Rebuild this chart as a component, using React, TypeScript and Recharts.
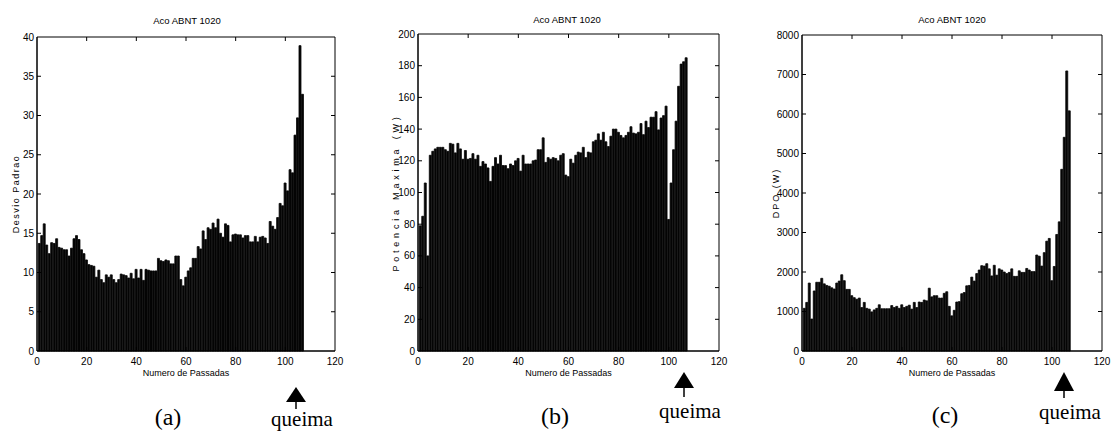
import React from 'react';
import { BarChart, Bar, XAxis, YAxis, ReferenceArea, ReferenceLine } from 'recharts';

// Numero de Passadas 1..107 (burn happens after the last pass)
const passes = Array.from({ length: 107 }, (_, i) => i + 1);

// (a) Desvio Padrao
const desvioPadrao = [
    13.7, 14.7, 16.2, 13.5, 12.4, 13.8, 13.7, 14.3, 13.2, 13.1,
    12.9, 12.9, 12.1, 13.1, 14.3, 14.7, 14.2, 12.9, 12.4, 11.6,
    11.0, 10.9, 10.8, 9.4, 10.3, 9.1, 8.7, 9.7, 9.4, 9.7,
    9.1, 8.7, 9.1, 9.8, 9.7, 9.6, 9.3, 9.9, 9.2, 10.4,
    9.3, 10.4, 9.0, 10.4, 10.3, 10.2, 10.2, 10.2, 11.8, 11.5,
    11.4, 11.6, 11.5, 11.1, 11.1, 12.1, 12.1, 9.1, 8.3, 9.4,
    10.2, 10.6, 11.8, 11.8, 13.3, 13.0, 15.3, 14.2, 15.7, 15.5,
    16.3, 15.7, 16.8, 15.0, 14.5, 16.2, 16.0, 13.9, 14.8, 14.9,
    14.8, 14.8, 14.4, 14.7, 14.7, 13.9, 13.9, 14.6, 13.9, 14.5,
    14.6, 14.4, 13.7, 16.5, 15.9, 15.5, 17.0, 18.8, 18.5, 21.4,
    20.4, 23.1, 22.7, 27.5, 29.7, 38.9, 32.7,
];

// (b) Potencia Maxima (W)
const potenciaMaxima = [
    79, 85, 106, 60, 123.5, 126, 127.5, 128.5, 128.5, 128.5,
    127, 126, 131, 130.5, 125, 131, 127.5, 121, 126.5, 121,
    121.5, 124.5, 121, 123.5, 116.5, 119.5, 118, 115.5, 107, 116.5,
    122, 118, 123.5, 117, 117, 115, 118, 117, 120, 121.5,
    113.5, 123.5, 118, 118, 118, 120, 120.5, 127, 127, 134.5,
    119, 122, 121, 122, 121.5, 120, 123.5, 124.5, 111, 110,
    121, 118.5, 123.5, 125.5, 125, 128.5, 122, 125.5, 125, 132,
    133, 137, 133, 138, 132, 129, 135.5, 140, 140, 138,
    136, 134.5, 136, 138, 141.5, 137.5, 137, 138, 143.5, 136.5,
    145, 141, 147.5, 147.5, 151, 139.5, 147, 148.5, 154.5, 83,
    106, 127, 145, 167, 181, 182.5, 185,
];

// (c) DPO (W)
const dpo = [
    1080, 1230, 1720, 810, 1520, 1740, 1740, 1840, 1700, 1660,
    1640, 1600, 1570, 1720, 1770, 1930, 1780, 1560, 1560, 1400,
    1350, 1310, 1340, 1100, 1230, 1080, 1060, 990, 1040, 1080,
    1170, 1070, 1070, 1070, 1070, 1150, 1100, 1130, 1080, 1170,
    1100, 1130, 1160, 1060, 1230, 1100, 1240, 1230, 1290, 1270,
    1590, 1370, 1400, 1400, 1340, 1340, 1460, 1500, 1130, 890,
    1030, 1240, 1250, 1450, 1480, 1650, 1660, 1870, 1770, 1960,
    2050, 2160, 2150, 2210, 2080, 1900, 2170, 1920, 2080, 2050,
    2000, 1960, 1990, 2080, 1890, 1890, 2030, 1990, 1990, 2090,
    2050, 2010, 2010, 2430, 2400, 2150, 2490, 2780, 2850, 1780,
    2140, 2950, 3270, 4600, 5410, 7090, 6080,
];

const xTicks = [0, 20, 40, 60, 80, 100, 120];
const yTicksA = [0, 5, 10, 15, 20, 25, 30, 35, 40];
const yTicksB = [0, 20, 40, 60, 80, 100, 120, 140, 160, 180, 200];
const yTicksC = [0, 1000, 2000, 3000, 4000, 5000, 6000, 7000, 8000];

const SANS = '"Liberation Sans", Arial, sans-serif';
const SERIF = '"Liberation Serif", "Times New Roman", serif';
const tickStyle = { fontSize: 10, fill: '#000', fontFamily: SANS };
const lineStyle = { stroke: '#000', strokeWidth: 1 };

interface PanelProps {
    values: number[];
    yTicks: number[];
    yLabel: string;
    yLabelSpacing: number;
    yLabelDx: number;
    left: number;
    width: number;
    yAxisWidth: number;
    top: number;
    right: number;
}

const Panel: React.FC<PanelProps> = ({
    values, yTicks, yLabel, yLabelSpacing, yLabelDx, left, width, yAxisWidth, top, right,
}) => {
    const data = passes.map((p, i) => ({ pass: p, value: values[i] }));
    const yMax = yTicks[yTicks.length - 1];
    // inward tick marks on all four sides, ~4px long
    const plotW = width - right - yAxisWidth;
    const plotH = 390 - 9 - 30 - top;
    const tx = (4 * 120) / plotW;
    const ty = (4 * yMax) / plotH;
    return (
        <div style={{ position: 'absolute', left, top: 0 }}>
            <BarChart
                width={width}
                height={390}
                data={data}
                margin={{ top, right, left: 0, bottom: 9 }}
                barCategoryGap={0}
            >
                <XAxis
                    dataKey="pass"
                    type="number"
                    domain={[0, 120]}
                    ticks={xTicks}
                    height={30}
                    tickSize={-4}
                    tickMargin={11}
                    tick={tickStyle}
                    axisLine={lineStyle}
                    tickLine={false}
                    label={{
                        value: 'Numero de Passadas',
                        position: 'center',
                        dy: 7,
                        style: { fontSize: 9, fill: '#000', fontFamily: SANS },
                    }}
                />
                <YAxis
                    type="number"
                    domain={[0, yMax]}
                    ticks={yTicks}
                    width={yAxisWidth}
                    tickSize={-4}
                    tickMargin={7}
                    tick={tickStyle}
                    axisLine={lineStyle}
                    tickLine={false}
                    label={{
                        value: yLabel,
                        angle: -90,
                        position: 'center',
                        dx: yLabelDx,
                        style: { fontSize: 9, fill: '#000', fontFamily: SANS, letterSpacing: yLabelSpacing },
                    }}
                />
                <Bar dataKey="value" fill="#050505" stroke="#050505" strokeWidth={0.8} barSize={2} isAnimationActive={false} />
                <ReferenceArea x1={0} x2={120} y1={0} y2={yMax} fill="none" stroke="#000" strokeWidth={1} ifOverflow="visible" />
                {xTicks.slice(1, -1).map((t) => (
                    <ReferenceLine key={`xb${t}`} segment={[{ x: t, y: 0 }, { x: t, y: ty }]} stroke="#000" ifOverflow="visible" />
                ))}
                {xTicks.slice(1, -1).map((t) => (
                    <ReferenceLine key={`xt${t}`} segment={[{ x: t, y: yMax }, { x: t, y: yMax - ty }]} stroke="#000" ifOverflow="visible" />
                ))}
                {yTicks.slice(1, -1).map((t) => (
                    <ReferenceLine key={`yl${t}`} segment={[{ x: 0, y: t }, { x: tx, y: t }]} stroke="#000" ifOverflow="visible" />
                ))}
                {yTicks.slice(1, -1).map((t) => (
                    <ReferenceLine key={`yr${t}`} segment={[{ x: 120, y: t }, { x: 120 - tx, y: t }]} stroke="#000" ifOverflow="visible" />
                ))}
            </BarChart>
        </div>
    );
};

// upward arrow pointing at the burn ("queima")
const Arrow: React.FC<{ x: number; tip: number; base: number; end: number }> = ({ x, tip, base, end }) => (
    <g>
        <polygon points={`${x},${tip} ${x - 10},${base} ${x + 10},${base}`} fill="#000" />
        <line x1={x} y1={base} x2={x} y2={end} stroke="#000" strokeWidth={1.5} />
    </g>
);

export default function App() {
    return (
        <div style={{ position: 'relative', width: 1111, height: 431, background: '#fff', overflow: 'hidden' }}>
            <style>{'body{margin:0}'}</style>
            <Panel values={desvioPadrao} yTicks={yTicksA} yLabel="Desvio Padrao" yLabelSpacing={1.5} yLabelDx={-3}
                left={0} width={345} yAxisWidth={37} top={37} right={10} />
            <Panel values={potenciaMaxima} yTicks={yTicksB} yLabel="Potencia Maxima (W)" yLabelSpacing={3.8} yLabelDx={-3}
                left={380} width={350} yAxisWidth={38} top={34} right={11} />
            <Panel values={dpo} yTicks={yTicksC} yLabel="DPO (W)" yLabelSpacing={2} yLabelDx={-5}
                left={760} width={351} yAxisWidth={42} top={35} right={9} />
            <svg width={1111} height={431} style={{ position: 'absolute', left: 0, top: 0, pointerEvents: 'none' }}>
                <g fontFamily={SANS} fontSize={9.5} textAnchor="middle" fill="#000">
                    <text x={187} y={24}>Aco ABNT 1020</text>
                    <text x={567} y={23}>Aco ABNT 1020</text>
                    <text x={952} y={23}>Aco ABNT 1020</text>
                </g>
                <g fontFamily={SERIF} textAnchor="middle" fill="#000">
                    <text x={168} y={425} fontSize={24}>(a)</text>
                    <text x={555} y={424} fontSize={24}>(b)</text>
                    <text x={945} y={423} fontSize={24}>(c)</text>
                    <text x={302} y={426} fontSize={21}>queima</text>
                    <text x={690} y={418} fontSize={21}>queima</text>
                    <text x={1070} y={419} fontSize={21}>queima</text>
                </g>
                <Arrow x={296} tip={387} base={402} end={409} />
                <Arrow x={684} tip={372} base={388} end={397} />
                <Arrow x={1064} tip={372} base={391} end={398} />
            </svg>
        </div>
    );
}
